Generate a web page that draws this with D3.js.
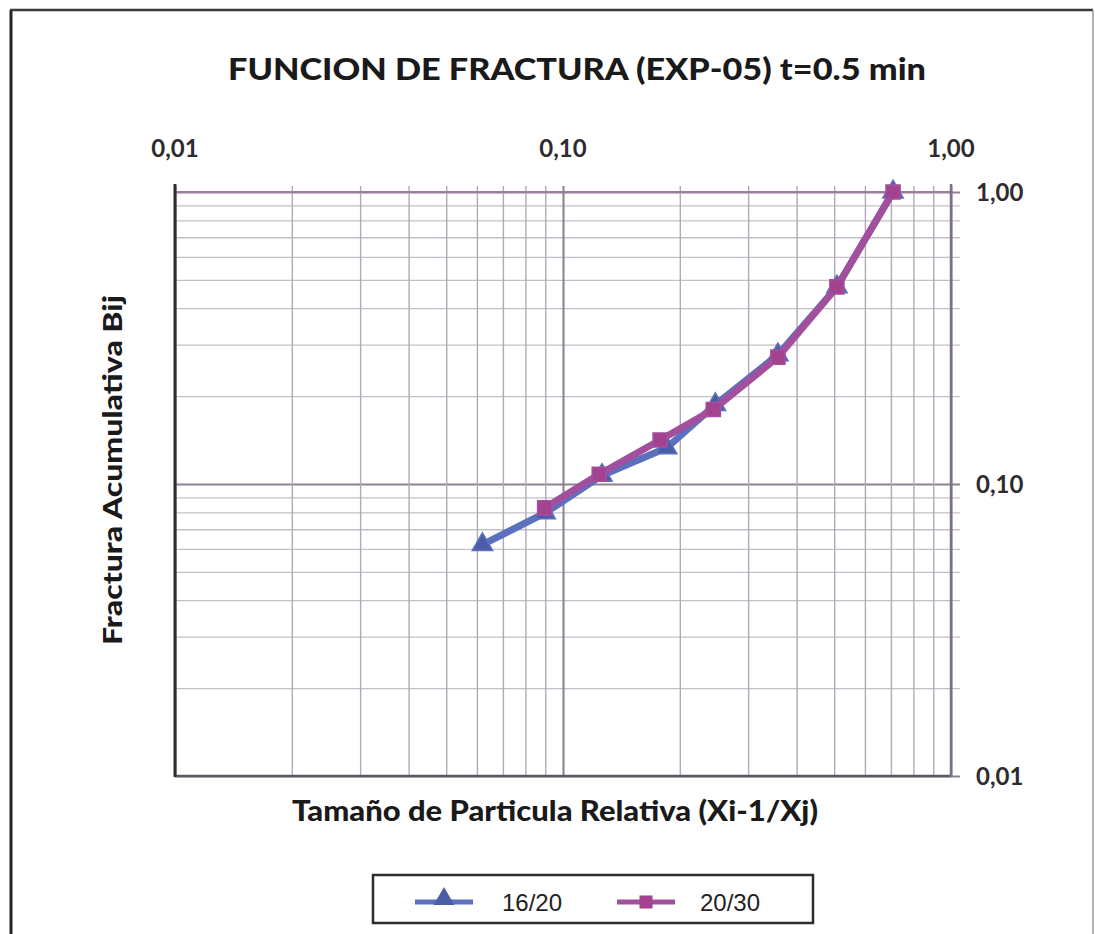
<!DOCTYPE html>
<html>
<head>
<meta charset="utf-8">
<script src="https://cdn.jsdelivr.net/npm/d3@7"></script>
<style>
  html, body { margin: 0; padding: 0; background: #fff; }
  svg { display: block; }
  .tick-label { font-family: Lato, 'Open Sans', sans-serif; font-weight: bold; fill: #2e2a2e; font-size: 24px; }
  .legend-label { font-family: 'Liberation Sans', Arial, sans-serif; fill: #222; font-size: 24px; }
</style>
</head>
<body>
<div id="chart"></div>
<script>
// series values
const seriesNames = ['16/20', '20/30']
const x1620 = [0.062, 0.09, 0.126, 0.185, 0.247, 0.358, 0.508, 0.709]
const y1620 = [0.062, 0.0796, 0.107, 0.133, 0.187, 0.277, 0.473, 1.0]
const x2030 = [0.0897, 0.124, 0.178, 0.244, 0.358, 0.508, 0.709]
const y2030 = [0.0828, 0.108, 0.1415, 0.18, 0.272, 0.473, 1.0]
const xTickLabels = ['0,01', '0,10', '1,00']
const yTickLabels = ['0,01', '0,10', '1,00']
const majorTicks = [0.01, 0.1, 1]

const W = 1095, H = 934
const plot = { left: 175, right: 951, top: 192, bottom: 776 }

const svg = d3.select('#chart').append('svg')
  .attr('width', W).attr('height', H)

// outer frame
svg.append('line').attr('x1', 11).attr('x2', 11).attr('y1', 10).attr('y2', H)
  .attr('stroke', '#262228').attr('stroke-width', 3)
svg.append('line').attr('x1', 10).attr('x2', 1093).attr('y1', 10).attr('y2', 10)
  .attr('stroke', '#3a3a3a').attr('stroke-width', 2.5)
svg.append('line').attr('x1', 1093).attr('x2', 1093).attr('y1', 10).attr('y2', H)
  .attr('stroke', '#9a9a9a').attr('stroke-width', 1.5)

const x = d3.scaleLog().domain([0.01, 1]).range([plot.left, plot.right])
const y = d3.scaleLog().domain([0.01, 1]).range([plot.bottom, plot.top])

const isMajor = v => majorTicks.some(m => Math.abs(m - v) < 1e-9)

// horizontal grid
svg.append('g')
  .attr('transform', `translate(${plot.right},0)`)
  .call(d3.axisRight(y).ticks(10).tickSize(-(plot.right - plot.left)).tickFormat(''))
  .call(ax => ax.select('.domain').remove())
  .call(ax => ax.selectAll('.tick line')
    .attr('x2', 9)
    .attr('x1', -(plot.right - plot.left))
    .attr('stroke', d => isMajor(d) ? '#8c8290' : '#c4bfc6')
    .attr('stroke-width', d => isMajor(d) ? 2 : 1.3))

// vertical grid
svg.append('g')
  .attr('transform', `translate(0,${plot.top})`)
  .call(d3.axisTop(x).ticks(10).tickSize(-(plot.bottom - plot.top)).tickFormat(''))
  .call(ax => ax.select('.domain').remove())
  .call(ax => ax.selectAll('.tick line')
    .attr('y1', -6)
    .attr('y2', plot.bottom - plot.top)
    .attr('stroke', d => isMajor(d) ? '#8a7f8e' : '#b3a8b8')
    .attr('stroke-width', d => isMajor(d) ? 2 : 1.4))

// plot borders
svg.append('line').attr('x1', plot.left).attr('x2', plot.right).attr('y1', plot.top).attr('y2', plot.top)
  .attr('stroke', '#a07a9e').attr('stroke-width', 2)
svg.append('line').attr('x1', plot.left).attr('x2', plot.right).attr('y1', plot.bottom).attr('y2', plot.bottom)
  .attr('stroke', '#5e5862').attr('stroke-width', 2.5)
svg.append('line').attr('x1', plot.left).attr('x2', plot.left).attr('y1', plot.top - 8).attr('y2', plot.bottom + 1)
  .attr('stroke', '#2e2a30').attr('stroke-width', 3)
svg.append('line').attr('x1', plot.right).attr('x2', plot.right).attr('y1', plot.top - 8).attr('y2', plot.bottom + 1)
  .attr('stroke', '#7d6f86').attr('stroke-width', 2.5)

// tick labels
svg.selectAll('.xlab').data(majorTicks).join('text')
  .attr('class', 'tick-label')
  .attr('x', d => x(d)).attr('y', 157)
  .attr('text-anchor', 'middle')
  .text((d, i) => xTickLabels[i])

svg.selectAll('.ylab').data(majorTicks).join('text')
  .attr('class', 'tick-label')
  .attr('x', 976).attr('y', d => y(d) + 9)
  .text((d, i) => yTickLabels[i])

// titles
svg.append('text')
  .attr('x', 577).attr('y', 80)
  .attr('text-anchor', 'middle')
  .attr('font-family', 'Lato, sans-serif').attr('font-weight', 900)
  .attr('font-size', 31).attr('fill', '#1a1a1a')
  .attr('textLength', 698).attr('lengthAdjust', 'spacingAndGlyphs')
  .text('FUNCION DE FRACTURA (EXP-05) t=0.5 min')

svg.append('text')
  .attr('x', 555).attr('y', 821)
  .attr('text-anchor', 'middle')
  .attr('font-family', 'Lato, sans-serif').attr('font-weight', 900)
  .attr('font-size', 28).attr('fill', '#1a1a1a')
  .attr('textLength', 526).attr('lengthAdjust', 'spacingAndGlyphs')
  .text('Tamaño de Particula Relativa (Xi-1/Xj)')

svg.append('text')
  .attr('transform', 'translate(122,470) rotate(-90)')
  .attr('text-anchor', 'middle')
  .attr('font-family', 'Lato, sans-serif').attr('font-weight', 900)
  .attr('font-size', 27).attr('fill', '#1a1a1a')
  .attr('textLength', 350).attr('lengthAdjust', 'spacingAndGlyphs')
  .text('Fractura Acumulativa Bij')

// series
const series = [
  { name: seriesNames[0], xs: x1620, ys: y1620, color: '#5d70bd', marker: '#4a5ea8', symbol: d3.symbolTriangle },
  { name: seriesNames[1], xs: x2030, ys: y2030, color: '#a2509e', marker: '#a3438f', symbol: d3.symbolSquare }
]

const line = d3.line().x(d => x(d[0])).y(d => y(d[1]))

series.forEach(s => {
  const pts = s.xs.map((v, i) => [v, s.ys[i]])
  const g = svg.append('g')
  g.append('path')
    .datum(pts)
    .attr('d', line)
    .attr('fill', 'none')
    .attr('stroke', s.color)
    .attr('stroke-width', 7)
    .attr('stroke-linejoin', 'round')
  g.selectAll('path.mk').data(pts).join('path')
    .attr('class', 'mk')
    .attr('transform', d => `translate(${x(d[0])},${y(d[1])})`)
    .attr('d', d3.symbol().type(s.symbol).size(s.symbol === d3.symbolSquare ? 200 : 180))
    .attr('fill', s.marker)
    .attr('stroke', s.color)
    .attr('stroke-width', 1.5)
})

// legend
const lg = svg.append('g')
lg.append('rect')
  .attr('x', 373).attr('y', 875).attr('width', 440).attr('height', 48)
  .attr('fill', '#fff').attr('stroke', '#2e2a30').attr('stroke-width', 2.5)

const legendItems = [
  { x0: 415, x1: 473, tx: 502 },
  { x0: 617, x1: 675, tx: 700 }
]
legendItems.forEach((it, i) => {
  const s = series[i]
  lg.append('line')
    .attr('x1', it.x0).attr('x2', it.x1).attr('y1', 902).attr('y2', 902)
    .attr('stroke', s.color).attr('stroke-width', 5)
  lg.append('path')
    .attr('transform', `translate(${(it.x0 + it.x1) / 2},${s.symbol === d3.symbolTriangle ? 899 : 902})`)
    .attr('d', d3.symbol().type(s.symbol).size(s.symbol === d3.symbolSquare ? 170 : 190))
    .attr('fill', s.marker)
  lg.append('text')
    .attr('class', 'legend-label')
    .attr('x', it.tx).attr('y', 911)
    .text(s.name)
})
</script>
</body>
</html>
